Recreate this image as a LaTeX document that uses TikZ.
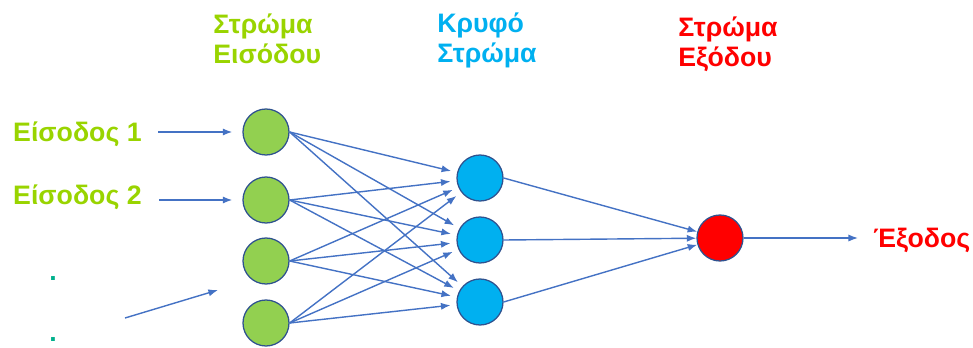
\documentclass[tikz,border=0pt]{standalone}
\usepackage{fontspec}
\setmainfont{Liberation Sans}
\usepackage{xcolor}
\usepackage{tikz}
\usetikzlibrary{arrows.meta}

\definecolor{inputgreen}{RGB}{146,208,80}
\definecolor{textgreen}{RGB}{153,212,0}
\definecolor{hiddenblue}{RGB}{0,176,240}
\definecolor{outred}{RGB}{255,0,0}
\definecolor{ringblue}{RGB}{47,82,143}
\definecolor{linkblue}{RGB}{68,114,196}
\definecolor{dotteal}{RGB}{0,176,140}

\tikzset{
  neuron/.style={circle, draw=ringblue, line width=0.9pt, minimum size=1.15cm, inner sep=0pt},
  link/.style={-{Latex[length=2.4mm,width=1.8mm]}, draw=linkblue, line width=1pt},
  caption/.style={inner sep=0pt, font=\fontsize{19}{21.3}\selectfont\bfseries},
  heading/.style={caption, align=left, anchor=base west}
}

\begin{document}
\begin{tikzpicture}
\useasboundingbox (0,0) rectangle (24.325,8.675);

% titles (base = second line)
\node[heading, text=textgreen] (intitle) at (5.325,7.1) {Στρώμα\\Εισόδου};
\node[heading, text=hiddenblue] (hidtitle) at (10.925,7.125) {Κρυφό\\Στρώμα};
\node[heading, text=outred] (outtitle) at (16.95,7.025) {Στρώμα\\Εξόδου};

% neurons
\node[neuron, fill=inputgreen] (in1) at (6.65,5.375) {};
\node[neuron, fill=inputgreen] (in2) at (6.65,3.675) {};
\node[neuron, fill=inputgreen] (in3) at (6.65,2.15) {};
\node[neuron, fill=inputgreen] (in4) at (6.65,0.6) {};

\node[neuron, fill=hiddenblue] (hid1) at (12,4.225) {};
\node[neuron, fill=hiddenblue] (hid2) at (12,2.675) {};
\node[neuron, fill=hiddenblue] (hid3) at (12,1.125) {};

\node[neuron, fill=outred] (out) at (18,2.725) {};

% inputs and output
\node[caption, text=textgreen, anchor=base east] (x1) at (3.55,5.15) {Είσοδος 1};
\node[caption, text=textgreen, anchor=base east] (x2) at (3.55,3.575) {Είσοδος 2};
\node[caption, text=dotteal] (dot1) at (1.325,1.7) {.};
\node[caption, text=dotteal] (dot2) at (1.325,0.19) {.};
\node[caption, text=outred, anchor=base west] (y) at (21.825,2.5) {Έξοδος};

\coordinate (s1) at (3.95,5.375);
\coordinate (s2) at (3.975,3.675);
\coordinate (s3) at (3.125,0.725);
\coordinate (e3) at (5.45,1.425);
\coordinate (e4) at (21.45,2.725);

\draw[link, shorten >=0.25cm] (s1) -- (in1);
\draw[link, shorten >=0.25cm] (s2) -- (in2);
\draw[link] (s3) -- (e3);

% input to hidden
\draw[link, shorten >=0.15cm] (in1.east) -- (hid1);
\draw[link, shorten >=0.15cm] (in1.east) -- (hid2);
\draw[link, shorten >=0.15cm] (in1.east) -- (hid3);
\draw[link, shorten >=0.15cm] (in2.east) -- (hid1);
\draw[link, shorten >=0.15cm] (in2.east) -- (hid2);
\draw[link, shorten >=0.15cm] (in2.east) -- (hid3);
\draw[link, shorten >=0.15cm] (in3.east) -- (hid1);
\draw[link, shorten >=0.15cm] (in3.east) -- (hid2);
\draw[link, shorten >=0.15cm] (in3.east) -- (hid3);
\draw[link, shorten >=0.15cm] (in4.east) -- (hid1);
\draw[link, shorten >=0.15cm] (in4.east) -- (hid2);
\draw[link, shorten >=0.15cm] (in4.east) -- (hid3);

% hidden to output
\draw[link] (hid1.east) -- (out);
\draw[link] (hid2.east) -- (out);
\draw[link] (hid3.east) -- (out);
\draw[link] (out.east) -- (e4);

\end{tikzpicture}
\end{document}
